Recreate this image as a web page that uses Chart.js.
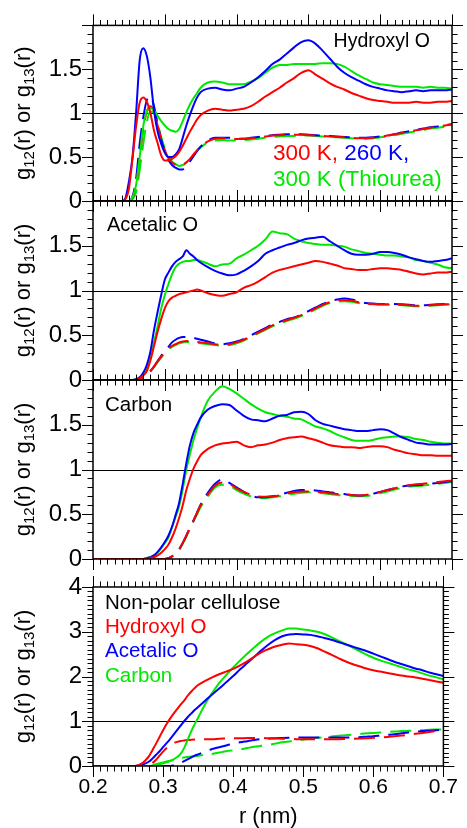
<!DOCTYPE html>
<html><head><meta charset="utf-8">
<script src="https://cdn.jsdelivr.net/npm/chart.js@4.4.1/dist/chart.umd.min.js"></script>
<style>
html,body{margin:0;padding:0;background:#fff;}
#wrap{position:relative;width:467px;height:828px;background:#fff;}
#wrap canvas{position:absolute;left:0;top:0;}
</style></head><body>
<div id="wrap">
<canvas id="c1" width="467" height="828"></canvas>
<canvas id="c2" width="467" height="828"></canvas>
<canvas id="c3" width="467" height="828"></canvas>
<canvas id="c4" width="467" height="828"></canvas>
</div>
<script>
// ---------------- DATA ----------------
const r = [0.20,0.22,0.24,0.245,0.25,0.255,0.26,0.265,0.27,0.275,
           0.28,0.285,0.29,0.295,0.30,0.305,0.31,0.315,0.32,0.325,
           0.33,0.335,0.34,0.345,0.35,0.36,0.37,0.38,0.39,0.40,
           0.41,0.42,0.43,0.44,0.45,0.46,0.47,0.48,0.49,0.50,
           0.51,0.52,0.53,0.54,0.55,0.56,0.57,0.58,0.59,0.60,
           0.61,0.62,0.63,0.64,0.65,0.66,0.67,0.68,0.69,0.70];
const xTickLabels = ['0.2','0.3','0.4','0.5','0.6','0.7'];
const yTickLabelsTop = ['0','0.5','1','1.5'];
const yTickLabelsNP = ['0','1','2','3','4'];
const refLevel = 1;

// Panel 1: Hydroxyl O  (solid g12, dashed g13)
const hydRed = [0,0,0,0.02,0.14,0.48,0.85,1.12,1.18,1.13,
  1.00,0.80,0.66,0.52,0.46,0.46,0.48,0.51,0.56,0.63,
  0.71,0.79,0.86,0.93,0.98,1.03,1.05,1.04,1.03,1.04,
  1.05,1.08,1.13,1.19,1.24,1.29,1.35,1.40,1.46,1.49,
  1.44,1.39,1.34,1.30,1.27,1.23,1.20,1.17,1.15,1.14,
  1.13,1.12,1.12,1.12,1.13,1.12,1.12,1.13,1.13,1.14];
const hydBlue = [0,0,0,0.03,0.22,0.50,1.00,1.60,1.74,1.65,
  1.40,1.03,0.79,0.65,0.55,0.50,0.50,0.53,0.59,0.72,
  0.86,0.98,1.09,1.18,1.24,1.28,1.29,1.27,1.26,1.28,
  1.30,1.35,1.41,1.48,1.56,1.61,1.68,1.75,1.81,1.83,
  1.79,1.71,1.62,1.53,1.46,1.41,1.37,1.33,1.30,1.28,
  1.26,1.25,1.24,1.25,1.26,1.25,1.26,1.26,1.26,1.27];
const hydGreen = [0,0,0,0,0,0.04,0.18,0.50,0.85,1.02,
  1.06,1.03,0.97,0.91,0.86,0.82,0.80,0.79,0.82,0.91,
  1.01,1.10,1.17,1.23,1.29,1.35,1.36,1.35,1.33,1.33,
  1.33,1.36,1.40,1.46,1.52,1.55,1.55,1.56,1.56,1.56,
  1.56,1.57,1.57,1.56,1.53,1.48,1.43,1.39,1.35,1.33,
  1.32,1.31,1.30,1.30,1.30,1.29,1.30,1.29,1.29,1.28];
const hydRedD = [0,0,0,0,0,0.03,0.18,0.50,0.82,1.02,
  1.08,1.02,0.86,0.70,0.58,0.49,0.44,0.41,0.40,0.41,
  0.44,0.48,0.53,0.58,0.62,0.68,0.71,0.715,0.71,0.705,
  0.71,0.715,0.725,0.735,0.745,0.75,0.755,0.755,0.755,0.75,
  0.745,0.74,0.735,0.73,0.725,0.72,0.715,0.715,0.72,0.73,
  0.745,0.76,0.775,0.79,0.805,0.82,0.835,0.85,0.86,0.87];
const hydBlueD = [0,0,0,0,0,0.05,0.25,0.65,0.95,1.15,
  1.19,1.08,0.88,0.70,0.57,0.47,0.41,0.38,0.36,0.36,
  0.40,0.45,0.51,0.57,0.62,0.69,0.72,0.72,0.72,0.71,
  0.71,0.72,0.73,0.74,0.75,0.755,0.76,0.76,0.76,0.755,
  0.75,0.745,0.74,0.735,0.73,0.725,0.72,0.72,0.725,0.735,
  0.745,0.76,0.78,0.795,0.81,0.825,0.84,0.85,0.865,0.875];
const hydGreenD = [0,0,0,0,0,0.02,0.10,0.35,0.65,0.90,
  1.02,1.00,0.88,0.73,0.60,0.51,0.45,0.42,0.40,0.41,
  0.43,0.47,0.52,0.57,0.61,0.67,0.69,0.695,0.69,0.69,
  0.695,0.70,0.71,0.72,0.73,0.735,0.74,0.74,0.745,0.745,
  0.74,0.735,0.73,0.725,0.72,0.715,0.71,0.71,0.715,0.725,
  0.735,0.75,0.765,0.78,0.795,0.81,0.825,0.835,0.845,0.855];

// Panel 2: Acetalic O
const aceRed = [0,0,0,0,0,0,0,0.02,0.05,0.10,
  0.22,0.38,0.54,0.68,0.80,0.88,0.92,0.94,0.96,0.97,
  0.98,0.99,1.00,1.01,1.00,0.97,0.95,0.94,0.96,0.98,
  1.03,1.06,1.10,1.15,1.20,1.23,1.25,1.27,1.29,1.31,
  1.33,1.32,1.30,1.28,1.25,1.24,1.23,1.23,1.24,1.25,
  1.25,1.24,1.23,1.21,1.19,1.18,1.19,1.20,1.20,1.21];
const aceBlue = [0,0,0,0,0,0,0.01,0.03,0.08,0.17,
  0.32,0.56,0.76,0.95,1.12,1.20,1.27,1.32,1.35,1.38,
  1.45,1.41,1.38,1.34,1.31,1.26,1.22,1.19,1.17,1.18,
  1.22,1.27,1.33,1.41,1.45,1.48,1.51,1.53,1.56,1.58,
  1.59,1.60,1.55,1.50,1.45,1.41,1.40,1.40,1.41,1.43,
  1.43,1.42,1.40,1.37,1.35,1.33,1.32,1.33,1.34,1.36];
const aceGreen = [0,0,0,0,0,0,0.01,0.02,0.06,0.13,
  0.25,0.42,0.60,0.80,0.95,1.07,1.18,1.26,1.30,1.32,
  1.33,1.33,1.34,1.34,1.33,1.30,1.27,1.29,1.30,1.36,
  1.40,1.45,1.50,1.57,1.66,1.64,1.63,1.58,1.55,1.53,
  1.52,1.51,1.51,1.50,1.49,1.46,1.44,1.42,1.41,1.40,
  1.39,1.39,1.38,1.37,1.34,1.33,1.31,1.29,1.26,1.25];
const aceRedD = [0,0,0,0,0,0,0,0.01,0.03,0.06,
  0.10,0.15,0.21,0.26,0.31,0.35,0.38,0.40,0.42,0.43,
  0.435,0.435,0.43,0.425,0.42,0.41,0.40,0.39,0.40,0.42,
  0.45,0.49,0.53,0.57,0.61,0.64,0.67,0.695,0.725,0.76,
  0.80,0.84,0.87,0.89,0.89,0.885,0.87,0.855,0.85,0.845,
  0.845,0.845,0.84,0.835,0.83,0.83,0.835,0.84,0.845,0.85];
const aceBlueD = [0,0,0,0,0,0,0,0.01,0.03,0.06,
  0.10,0.15,0.21,0.27,0.32,0.37,0.42,0.45,0.47,0.48,
  0.48,0.475,0.47,0.46,0.45,0.43,0.41,0.40,0.41,0.43,
  0.46,0.50,0.54,0.58,0.62,0.65,0.68,0.70,0.73,0.77,
  0.81,0.85,0.88,0.90,0.91,0.90,0.88,0.86,0.855,0.85,
  0.85,0.85,0.845,0.84,0.835,0.835,0.84,0.845,0.85,0.855];
const aceGreenD = [0,0,0,0,0,0,0,0.01,0.03,0.06,
  0.10,0.15,0.20,0.25,0.30,0.34,0.37,0.39,0.41,0.42,
  0.425,0.425,0.42,0.415,0.41,0.40,0.39,0.385,0.39,0.41,
  0.44,0.48,0.52,0.56,0.60,0.63,0.66,0.685,0.715,0.75,
  0.79,0.83,0.86,0.875,0.88,0.875,0.86,0.85,0.845,0.84,
  0.84,0.84,0.835,0.83,0.825,0.825,0.83,0.835,0.84,0.845];

// Panel 3: Carbon
const carRed = [0,0,0,0,0,0,0,0,0,0,
  0.01,0.02,0.04,0.07,0.11,0.16,0.24,0.34,0.46,0.60,
  0.77,0.90,1.01,1.09,1.16,1.23,1.27,1.29,1.30,1.31,
  1.27,1.25,1.27,1.28,1.30,1.33,1.35,1.36,1.37,1.35,
  1.33,1.30,1.27,1.26,1.25,1.25,1.24,1.25,1.26,1.26,
  1.25,1.22,1.20,1.18,1.17,1.16,1.16,1.155,1.155,1.155];
const carBlue = [0,0,0,0,0,0,0,0,0,0.01,
  0.02,0.04,0.08,0.13,0.19,0.26,0.36,0.49,0.63,0.84,
  1.07,1.27,1.41,1.50,1.58,1.67,1.71,1.73,1.72,1.66,
  1.60,1.56,1.55,1.54,1.57,1.60,1.61,1.64,1.645,1.62,
  1.55,1.51,1.49,1.47,1.45,1.44,1.43,1.43,1.44,1.45,
  1.44,1.40,1.36,1.33,1.30,1.29,1.28,1.28,1.28,1.285];
const carGreen = [0,0,0,0,0,0,0,0,0,0.01,
  0.02,0.04,0.07,0.12,0.18,0.24,0.35,0.47,0.59,0.78,
  1.00,1.17,1.33,1.46,1.58,1.77,1.87,1.93,1.90,1.85,
  1.79,1.73,1.68,1.64,1.62,1.60,1.59,1.57,1.56,1.52,
  1.48,1.46,1.43,1.39,1.36,1.33,1.32,1.32,1.33,1.35,
  1.36,1.37,1.37,1.36,1.34,1.33,1.31,1.30,1.29,1.29];
const carRedD = [0,0,0,0,0,0,0,0,0,0,
  0,0,0,0,0,0.01,0.03,0.06,0.11,0.18,
  0.26,0.35,0.43,0.52,0.60,0.72,0.82,0.855,0.84,0.79,
  0.75,0.72,0.70,0.695,0.70,0.71,0.73,0.745,0.755,0.755,
  0.75,0.745,0.735,0.725,0.72,0.715,0.71,0.715,0.73,0.75,
  0.77,0.79,0.81,0.825,0.835,0.84,0.85,0.86,0.87,0.875];
const carBlueD = [0,0,0,0,0,0,0,0,0,0,
  0,0,0,0,0,0.01,0.03,0.06,0.11,0.18,
  0.26,0.35,0.43,0.52,0.61,0.74,0.84,0.89,0.85,0.80,
  0.75,0.71,0.69,0.69,0.70,0.72,0.74,0.76,0.77,0.77,
  0.765,0.755,0.745,0.735,0.725,0.715,0.71,0.715,0.73,0.75,
  0.77,0.79,0.81,0.82,0.825,0.83,0.84,0.85,0.86,0.87];
const carGreenD = [0,0,0,0,0,0,0,0,0,0,
  0,0,0,0,0,0.01,0.03,0.06,0.10,0.17,
  0.25,0.34,0.42,0.50,0.58,0.70,0.80,0.83,0.82,0.77,
  0.73,0.70,0.685,0.68,0.69,0.70,0.715,0.73,0.74,0.745,
  0.74,0.735,0.725,0.715,0.71,0.705,0.70,0.705,0.715,0.735,
  0.755,0.775,0.795,0.81,0.815,0.82,0.83,0.84,0.85,0.86];

// Panel 4: Non-polar cellulose (red = Hydroxyl O, blue = Acetalic O, green = Carbon)
const npRed = [0,0,0,0,0,0,0,0.02,0.06,0.13,
  0.22,0.36,0.50,0.65,0.80,0.94,1.06,1.17,1.27,1.37,
  1.46,1.57,1.66,1.74,1.81,1.90,1.98,2.05,2.11,2.17,
  2.25,2.34,2.44,2.54,2.61,2.67,2.71,2.74,2.72,2.71,
  2.68,2.63,2.56,2.49,2.41,2.34,2.28,2.23,2.18,2.14,
  2.11,2.08,2.05,2.02,2.00,1.98,1.95,1.92,1.89,1.86];
const npBlue = [0,0,0,0,0,0,0,0.01,0.03,0.06,
  0.10,0.17,0.25,0.33,0.42,0.51,0.60,0.70,0.80,0.90,
  1.00,1.09,1.17,1.25,1.32,1.46,1.60,1.73,1.87,2.01,
  2.16,2.30,2.44,2.58,2.71,2.82,2.90,2.94,2.95,2.94,
  2.93,2.90,2.86,2.82,2.77,2.72,2.67,2.62,2.57,2.51,
  2.45,2.39,2.33,2.28,2.23,2.18,2.14,2.09,2.05,2.01];
const npGreen = [0,0,0,0,0,0,0,0,0,0,
  0,0.01,0.02,0.04,0.06,0.08,0.11,0.15,0.20,0.27,
  0.40,0.58,0.77,0.93,1.08,1.38,1.63,1.85,2.03,2.20,
  2.36,2.51,2.65,2.78,2.89,2.97,3.03,3.07,3.07,3.05,
  3.03,3.00,2.95,2.88,2.80,2.73,2.65,2.57,2.49,2.42,
  2.36,2.31,2.26,2.21,2.16,2.12,2.07,2.02,1.98,1.94];
const npRedD = [0,0,0,0,0,0,0,0,0,0.01,
  0.03,0.07,0.14,0.23,0.32,0.40,0.46,0.51,0.54,0.56,
  0.57,0.58,0.585,0.59,0.595,0.60,0.60,0.61,0.615,0.62,
  0.62,0.625,0.625,0.625,0.62,0.615,0.61,0.61,0.60,0.60,
  0.60,0.60,0.60,0.60,0.60,0.605,0.61,0.615,0.62,0.63,
  0.64,0.65,0.665,0.68,0.70,0.72,0.74,0.76,0.78,0.80];
const npBlueD = [0,0,0,0,0,0,0,0,0,0,
  0,0,0,0,0,0,0,0.01,0.03,0.07,
  0.11,0.15,0.19,0.23,0.26,0.32,0.38,0.42,0.46,0.50,
  0.53,0.555,0.58,0.60,0.61,0.62,0.625,0.63,0.635,0.635,
  0.635,0.635,0.635,0.635,0.635,0.635,0.64,0.645,0.655,0.665,
  0.68,0.695,0.71,0.73,0.75,0.765,0.78,0.79,0.80,0.81];
const npGreenD = [0,0,0,0,0,0,0,0,0,0,
  0.01,0.02,0.04,0.06,0.08,0.10,0.12,0.14,0.16,0.18,
  0.19,0.20,0.21,0.22,0.23,0.25,0.27,0.30,0.33,0.35,
  0.37,0.40,0.43,0.45,0.47,0.50,0.53,0.55,0.57,0.59,
  0.61,0.63,0.645,0.66,0.675,0.69,0.70,0.715,0.73,0.74,
  0.75,0.76,0.77,0.78,0.785,0.795,0.80,0.81,0.815,0.82];

// ---------------- STYLE / LAYOUT ----------------
const RED = '#ff0000', BLUE = '#0000ff', GREEN = '#00e800';
const FONT = "'Liberation Sans', Arial, Helvetica, sans-serif";
const W = 467, H = 828, YAXW = 93, RAXW = 15;

const panels = [
  { id:'c1', top:22, bottom:201, ymax:2, major:0.5, minor:0.1, yLabels:yTickLabelsTop, xLabels:false,
    series:[[hydRed,RED,false],[hydBlue,BLUE,false],[hydGreen,GREEN,false],
            [hydRedD,RED,true],[hydBlueD,BLUE,true],[hydGreenD,GREEN,true]],
    texts:[ [{t:'Hydroxyl O',c:'#000'}], 430, 42, 'right', 19.5 ],
    legend:{x:273, y0:154, dy:26, size:22.5, lines:[[{t:'300 K,',c:RED},{t:' 260 K,',c:BLUE}],[{t:'300 K (Thiourea)',c:GREEN}]]} },
  { id:'c2', top:201, bottom:380, ymax:2, major:0.5, minor:0.1, yLabels:yTickLabelsTop, xLabels:false,
    series:[[aceRed,RED,false],[aceBlue,BLUE,false],[aceGreen,GREEN,false],
            [aceRedD,RED,true],[aceBlueD,BLUE,true],[aceGreenD,GREEN,true]],
    legend:{x:107, y0:225, dy:24, size:20, lines:[[{t:'Acetalic O',c:'#000'}]]} },
  { id:'c3', top:380, bottom:559, ymax:2, major:0.5, minor:0.1, yLabels:yTickLabelsTop, xLabels:false,
    series:[[carRed,RED,false],[carBlue,BLUE,false],[carGreen,GREEN,false],
            [carRedD,RED,true],[carBlueD,BLUE,true],[carGreenD,GREEN,true]],
    legend:{x:105, y0:405, dy:24, size:20.5, lines:[[{t:'Carbon',c:'#000'}]]} },
  { id:'c4', top:587, bottom:766, ymax:4, major:1, minor:0.1, yLabels:yTickLabelsNP, xLabels:true,
    series:[[npRed,RED,false],[npBlue,BLUE,false],[npGreen,GREEN,false],
            [npRedD,RED,true],[npBlueD,BLUE,true],[npGreenD,GREEN,true]],
    legend:{x:105, y0:603, dy:24.3, size:20.5, lines:[[{t:'Non-polar cellulose',c:'#000'}],[{t:'Hydroxyl O',c:RED}],[{t:'Acetalic O',c:BLUE}],[{t:'Carbon',c:GREEN}]]} }
];

function drawYTitle(ctx, cx, cy){
  const segs = [['g',0],['12',1],['(r) or g',0],['13',1],['(r)',0]];
  const mainF = '22px ' + FONT, subF = '15px ' + FONT;
  let total = 0;
  for (const [t,s] of segs){ ctx.font = s ? subF : mainF; total += ctx.measureText(t).width; }
  ctx.save();
  ctx.translate(cx, cy);
  ctx.rotate(-Math.PI/2);
  ctx.fillStyle = '#000';
  ctx.textBaseline = 'alphabetic';
  ctx.textAlign = 'left';
  let x = -total/2;
  for (const [t,s] of segs){
    ctx.font = s ? subF : mainF;
    ctx.fillText(t, x, s ? 11.5 : 7.5);
    x += ctx.measureText(t).width;
  }
  ctx.restore();
}

function framePlugin(p){
  return {
    id: 'frame_' + p.id,
    beforeDatasetsDraw(chart){
      const {ctx, chartArea:a, scales:{y}} = chart;
      const py = Math.round(y.getPixelForValue(refLevel)) + 0.5;
      ctx.save();
      ctx.strokeStyle = '#000'; ctx.lineWidth = 1.2;
      ctx.beginPath(); ctx.moveTo(a.left, py); ctx.lineTo(a.right, py); ctx.stroke();
      ctx.restore();
    },
    afterDraw(chart){
      const {ctx, chartArea:a, scales:{x, y}} = chart;
      ctx.save();
      ctx.strokeStyle = '#000'; ctx.lineWidth = 1;
      ctx.beginPath();
      for (let k = 0; k <= 50; k++){
        const px = Math.round(x.getPixelForValue(0.2 + k*0.01)) + 0.5;
        const len = (k % 10 === 0) ? 11 : 5.5;
        ctx.moveTo(px, a.top); ctx.lineTo(px, a.top - len);
        ctx.moveTo(px, a.bottom); ctx.lineTo(px, a.bottom + len);
      }
      const n = Math.round(p.ymax / p.minor), every = Math.round(p.major / p.minor);
      for (let k = 0; k <= n; k++){
        const py = Math.round(y.getPixelForValue(k * p.minor)) + 0.5;
        const len = (k % every === 0) ? 11 : 5.5;
        ctx.moveTo(a.left, py); ctx.lineTo(a.left - len, py);
        ctx.moveTo(a.right, py); ctx.lineTo(a.right + len, py);
      }
      ctx.stroke();
      ctx.lineWidth = 1.5;
      ctx.strokeRect(a.left, a.top, a.right - a.left, a.bottom - a.top);
      if (p.texts){
        const [segs, tx, ty, al, sz] = p.texts;
        ctx.font = sz + 'px ' + FONT; ctx.textBaseline = 'middle'; ctx.textAlign = al;
        ctx.fillStyle = segs[0].c; ctx.fillText(segs[0].t, tx, ty);
      }
      if (p.legend){
        const L = p.legend;
        ctx.font = L.size + 'px ' + FONT; ctx.textBaseline = 'middle'; ctx.textAlign = 'left';
        L.lines.forEach((line, i) => {
          let lx = L.x; const ly = L.y0 + i * L.dy;
          for (const s of line){ ctx.fillStyle = s.c; ctx.fillText(s.t, lx, ly); lx += ctx.measureText(s.t).width; }
        });
      }
      drawYTitle(ctx, 22, (a.top + a.bottom) / 2);
      ctx.restore();
    }
  };
}

function makeChart(p){
  const xh = p.xLabels ? (H - p.bottom) : 0;
  return new Chart(document.getElementById(p.id), {
    type: 'line',
    data: {
      datasets: p.series.map(([vals, col, dashed]) => ({
        data: r.map((xv, i) => ({x: xv, y: vals[i]})),
        borderColor: col, borderWidth: 2, borderDash: dashed ? [21, 9] : [],
        pointRadius: 0, fill: false, cubicInterpolationMode: 'monotone'
      }))
    },
    options: {
      responsive: false, animation: false, devicePixelRatio: 1,
      layout: { padding: { top: p.top, bottom: p.xLabels ? 0 : (H - p.bottom), left: 0, right: 0 } },
      plugins: { legend: { display: false }, tooltip: { enabled: false } },
      scales: {
        x: {
          type: 'linear', min: 0.2, max: 0.7, position: 'bottom',
          grid: { display: false, drawTicks: false }, border: { display: false },
          afterFit(s){ s.height = xh; },
          afterBuildTicks(s){ s.ticks = xTickLabels.map(v => ({value: parseFloat(v)})); },
          ticks: { display: p.xLabels, padding: 9, color: '#000', font: { family: FONT, size: 21 },
                   callback: (v) => xTickLabels.find(t => Math.abs(parseFloat(t) - v) < 1e-9) || '' },
          title: { display: p.xLabels, text: 'r (nm)', color: '#000', font: { family: FONT, size: 22, lineHeight: 1 }, padding: { top: 0, bottom: 0 } }
        },
        y: {
          type: 'linear', min: 0, max: p.ymax, position: 'left',
          grid: { display: false, drawTicks: false }, border: { display: false },
          afterFit(s){ s.width = YAXW; },
          afterBuildTicks(s){ s.ticks = p.yLabels.map(v => ({value: parseFloat(v)})); },
          ticks: { padding: 11, color: '#000', font: { family: FONT, size: 24 },
                   callback: (v) => p.yLabels.find(t => Math.abs(parseFloat(t) - v) < 1e-9) || '' }
        },
        y2: {
          type: 'linear', min: 0, max: p.ymax, position: 'right',
          grid: { display: false, drawTicks: false }, border: { display: false },
          ticks: { display: false }, afterFit(s){ s.width = RAXW; }
        }
      }
    },
    plugins: [framePlugin(p)]
  });
}
panels.forEach(makeChart);
</script>
</body></html>
